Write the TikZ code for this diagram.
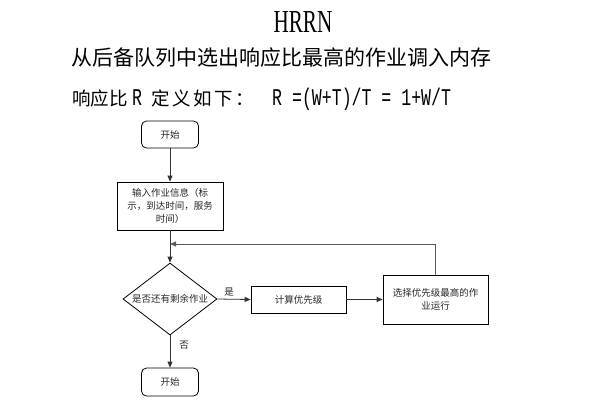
\documentclass[tikz,border=0pt]{standalone}
\usepackage{fontspec}
\newfontfamily\cjk{Noto Sans CJK SC}
\newfontfamily\monof{Liberation Mono}
\newfontfamily\titlef{Liberation Serif}
\usetikzlibrary{arrows.meta,shapes.geometric}
\begin{document}
\begin{tikzpicture}[x=1pt,y=-1pt,
  flowbox/.style={draw=black, line width=0.8pt, fill=white, inner sep=0pt,
    align=center, text=black!85, font=\cjk\fontsize{9.5}{13}\selectfont},
  termbox/.style={flowbox, rounded corners=5pt},
  decision/.style={draw=black, line width=0.8pt, diamond, inner sep=0pt},
  small/.style={inner sep=0pt, text=black!85, font=\cjk\fontsize{9.5}{13}\selectfont},
  link/.style={draw=black!80, line width=0.8pt, -{Triangle[length=6pt,width=5pt]}},
  headtext/.style={inner sep=0pt, anchor=base west},
  cjkbig/.style={headtext, font=\cjk\fontsize{21}{21}\selectfont},
  cjkmid/.style={headtext, font=\cjk\fontsize{18.5}{19}\selectfont},
  monobig/.style={headtext, font=\monof\fontsize{24}{24}\selectfont}
]
\useasboundingbox (0,0) rectangle (600,400);
\fill[white] (0,0) rectangle (600,400);

% title and text lines
\node[inner sep=0pt] (title) at (303,22) {\titlef\fontsize{32}{32}\selectfont\scalebox{0.66}[1]{HRRN}};
\node[cjkbig] (line1) at (71,65.5) {从后备队列中选出响应比最高的作业调入内存};
\node[cjkmid] (l2a) at (72,105) {响应比};
\node[monobig] (l2b) at (132,105) {\scalebox{0.69}[1]{R}};
\node[cjkmid] (l2c) at (151,105) {定\hspace{2.5pt}义\hspace{2.5pt}如\hspace{2.5pt}下\hspace{2.5pt}：};
\node[monobig] (l2d) at (272,105) {\scalebox{0.69}[1]{R =(W+T)/T = 1+W/T}};

% flowchart nodes
\node[termbox, minimum width=57pt, minimum height=27pt] (start) at (170,134.5) {开始};
\node[flowbox, minimum width=106pt, minimum height=48pt] (input) at (170,206) {输入作业信息（标\\示，到达时间，服务\\时间）};
\node[decision, minimum width=94pt, minimum height=72pt] (dec) at (170,299) {};
\node[small] (dectext) at (170,299) {是否还有剩余作业};
\node[flowbox, minimum width=95pt, minimum height=27pt] (calc) at (298.5,299.5) {计算优先级};
\node[flowbox, minimum width=105pt, minimum height=49pt] (sel) at (435.5,299.5) {选择优先级最高的作\\业运行};
\node[termbox, minimum width=57pt, minimum height=28pt] (end) at (170,382) {开始};
\coordinate (j) at (170,244);

% labels
\node[small] (yes) at (229,292) {是};
\node[small] (no) at (184,345) {否};

% connectors
\draw[link] (start) -- (input);
\draw[link] (input.south) -- (dec.north);
\draw[link, draw=black!65] (sel.north) |- (j);
\draw[link] (dec.east) -- (calc.west);
\draw[link] (calc) -- (sel);
\draw[link] (dec.south) -- (end.north);
\end{tikzpicture}
\end{document}
